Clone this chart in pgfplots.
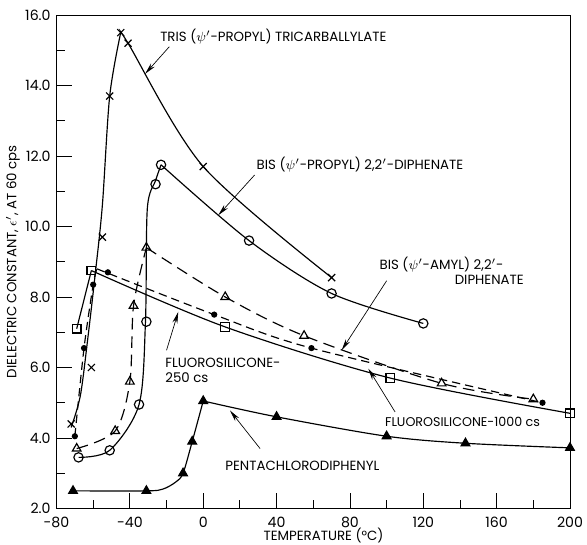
\documentclass[border=0pt]{standalone}
\usepackage{fontspec}
\setmainfont{Poppins}
\usepackage{pgfplots}
\pgfplotsset{compat=1.18}
\usetikzlibrary{arrows.meta,calc}

\begin{document}
\begin{tikzpicture}
\begin{axis}[
  name=ax,
  width=308pt, height=296pt, scale only axis,
  xmin=-80, xmax=200, ymin=2, ymax=16,
  xtick={-80,-40,...,200}, minor xtick={-60,-20,...,180},
  ytick={2,4,...,16}, minor ytick={3,5,...,15},
  tick pos=left, tick align=inside,
  major tick length=9pt, minor tick length=5pt,
  axis line style={line width=0.6pt},
  tick style={line width=0.5pt, black},
  /pgf/number format/assume math mode=true,
  yticklabel style={/pgf/number format/.cd, fixed, fixed zerofill, precision=1},
  ticklabel style={font=\fontsize{8.5}{10}\selectfont},
  xticklabel style={yshift=-1.5pt},
  xlabel={TEMPERATURE (°C)},
  ylabel={DIELECTRIC CONSTANT, $\epsilon'$, AT 60 cps},
  label style={font=\fontsize{8}{9}\selectfont},
  xlabel style={at={(axis description cs:0.52,0)}, anchor=center, yshift=-16.5pt},
  ylabel style={at={(axis description cs:-0.085,0.5)}, anchor=center},
  every axis plot/.append style={line width=0.7pt, black},
]
% --- TRIS (psi'-propyl) tricarballylate
\addplot[smooth, no markers] coordinates {(-72,4.3) (-67,5.2) (-63,6.8) (-59,8.6) (-55,10.6) (-51,13.7) (-45,15.5)};
\addplot[smooth, no markers] coordinates {(-45,15.5) (-41,15.2) (0,11.7) (70,8.55)};
\addplot[only marks, mark=x, mark size=3pt] coordinates {(-72,4.4) (-61,6.0) (-55,9.7) (-51,13.7) (-45,15.5) (-41,15.2) (0,11.7) (70,8.55)};
% --- BIS (psi'-propyl) 2,2'-diphenate
\addplot[smooth, no markers] coordinates {(-68,3.45) (-51,3.65) (-35,4.95) (-31.5,7.3) (-30.5,10.5) (-26,11.3) (-23,11.75)};
\addplot[smooth, no markers] coordinates {(-23,11.75) (25,9.6) (70,8.1) (120,7.25)};
\addplot[only marks, mark=o, mark size=2.8pt] coordinates {(-68,3.45) (-51,3.65) (-35,4.95) (-31,7.3) (-26,11.2) (-23,11.75) (25,9.6) (70,8.1) (120,7.25)};
% --- BIS (psi'-amyl) 2,2'-diphenate
\addplot[smooth, no markers, dash pattern=on 7pt off 4pt] coordinates {(-69,3.7) (-48,4.2) (-40,5.6) (-38,7.75) (-31,9.4)};
\addplot[smooth, no markers, dash pattern=on 7pt off 4pt] coordinates {(-31,9.4) (12,8.0) (55,6.9) (130,5.55) (180,5.1)};
\addplot[only marks, mark=triangle, mark size=3pt] coordinates {(-69,3.7) (-48,4.2) (-40,5.6) (-38,7.75) (-31,9.4) (12,8.0) (55,6.9) (130,5.55) (180,5.1)};
% --- Fluorosilicone 250 cs
\addplot[smooth, no markers, dash pattern=on 5pt off 3pt] coordinates {(-70,4.05) (-65,6.55) (-60,8.35) (-58,8.8)};
\addplot[smooth, no markers, dash pattern=on 5pt off 3pt] coordinates {(-58,8.8) (6,7.5) (59,6.55) (185,5.0)};
\addplot[only marks, mark=*, mark size=1.5pt] coordinates {(-70,4.05) (-65,6.55) (-60,8.35) (-52,8.7) (6,7.5) (59,6.55) (185,5.0)};
% --- Fluorosilicone 1000 cs
\addplot[no markers] coordinates {(-69,7.1) (-61,8.75)};
\addplot[smooth, no markers] coordinates {(-61,8.75) (12,7.15) (102,5.7) (200,4.7)};
\addplot[only marks, mark=square, mark size=2.6pt] coordinates {(-69,7.1) (-61,8.75) (12,7.15) (102,5.7) (200,4.7)};
% --- Pentachlorodiphenyl
\addplot[smooth, no markers] coordinates {(-71,2.5) (-31,2.5) (-22,2.55) (-15,2.75) (-11,3.0) (-6,3.9) (0,5.05)};
\addplot[smooth, no markers] coordinates {(0,5.05) (40,4.6) (100,4.05) (143,3.85) (200,3.72)};
\addplot[only marks, mark=triangle*, mark size=3pt] coordinates {(-71,2.5) (-31,2.5) (-11,3.0) (-6,3.9) (0,5.05) (40,4.6) (100,4.05) (143,3.85) (200,3.72)};

% --- annotations
\begin{scope}[font=\fontsize{8}{9}\selectfont]
\node[anchor=west, inner sep=0pt] at (axis cs:-23.6,15.4) {TRIS ($\psi'$-PROPYL) TRICARBALLYLATE};
\node[anchor=west, inner sep=0pt] at (axis cs:29,11.77) {BIS ($\psi'$-PROPYL) 2,2$'$-DIPHENATE};
\node[anchor=west, inner sep=0pt] at (axis cs:96,8.92) {BIS ($\psi'$-AMYL) 2,2$'$-};
\node[anchor=west, inner sep=0pt] at (axis cs:137,8.5) {DIPHENATE};
\node[anchor=west, inner sep=0pt] at (axis cs:-20.8,6.14) {FLUOROSILICONE-};
\node[anchor=west, inner sep=0pt] at (axis cs:-20.8,5.70) {250 cs};
\node[anchor=west, inner sep=0pt, font=\fontsize{7.6}{9}\selectfont] at (axis cs:99,4.45) {FLUOROSILICONE-1000 cs};
\node[anchor=west, inner sep=0pt] at (axis cs:11.9,3.22) {PENTACHLORODIPHENYL};
\end{scope}
\begin{scope}[line width=0.4pt, -{Stealth[length=7pt,width=3pt]}]
\draw (axis cs:-18.5,15.1) -- (axis cs:-31.7,14.33);
\draw (axis cs:28,11.46) -- (axis cs:8.2,10.32);
\draw (axis cs:100,8.46) -- (axis cs:75.5,6.49);
\draw (axis cs:-20,6.49) -- (axis cs:-13.6,7.58);
\draw (axis cs:104.6,4.74) -- (axis cs:90,5.97);
\draw (axis cs:31,3.7) -- (axis cs:14.6,4.78);
\end{scope}
\end{axis}
\pgfresetboundingbox
\path ($(ax.south west)+(-33.9pt,-21.5pt)$) rectangle ($(ax.north east)+(10.2pt,9pt)$);
\end{tikzpicture}
\end{document}
